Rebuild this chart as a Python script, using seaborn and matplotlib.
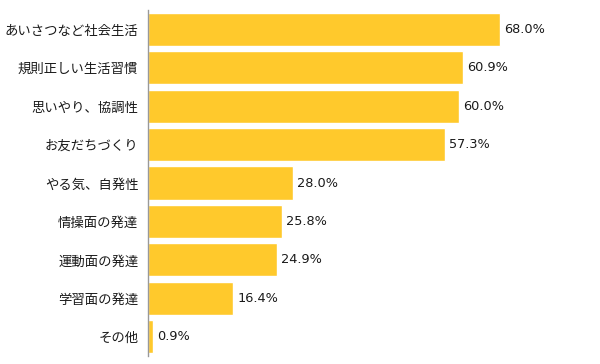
import matplotlib
matplotlib.use("Agg")
import matplotlib.pyplot as plt
import pandas as pd
import seaborn as sns

CATEGORIES = [
    "あいさつなど社会生活",
    "規則正しい生活習慣",
    "思いやり、協調性",
    "お友だちづくり",
    "やる気、自発性",
    "情操面の発達",
    "運動面の発達",
    "学習面の発達",
    "その他",
]
VALUES = [68.0, 60.9, 60.0, 57.3, 28.0, 25.8, 24.9, 16.4, 0.9]

BAR_COLOR = "#FFC92C"

sns.set_theme(style="white")
plt.rcParams["font.family"] = ["Noto Sans CJK JP", "DejaVu Sans"]

df = pd.DataFrame({"item": CATEGORIES, "value": VALUES})

fig = plt.figure(figsize=(6, 3.64), dpi=100)
ax = fig.add_axes([0.2467, 0.022, 0.7533, 0.9505])

sns.barplot(data=df, x="value", y="item", color=BAR_COLOR, saturation=1,
            width=0.86, ax=ax)

for i, v in enumerate(VALUES):
    ax.text(v + 0.8, i, f"{v:.1f}%", va="center", ha="left",
            fontsize=9.3, color="#1a1a1a", family=["DejaVu Sans"])

ax.set_xlim(0, 87.3)
ax.set_ylim(8.5, -0.5)
ax.set_xlabel("")
ax.set_ylabel("")
ax.set_xticks([])
ax.tick_params(axis="y", length=0, pad=7, labelsize=9.6, colors="#1a1a1a")
for side in ["top", "right", "bottom"]:
    ax.spines[side].set_visible(False)
ax.spines["left"].set_color("#999999")
ax.spines["left"].set_linewidth(1)

fig.savefig("out.png", dpi=100)
